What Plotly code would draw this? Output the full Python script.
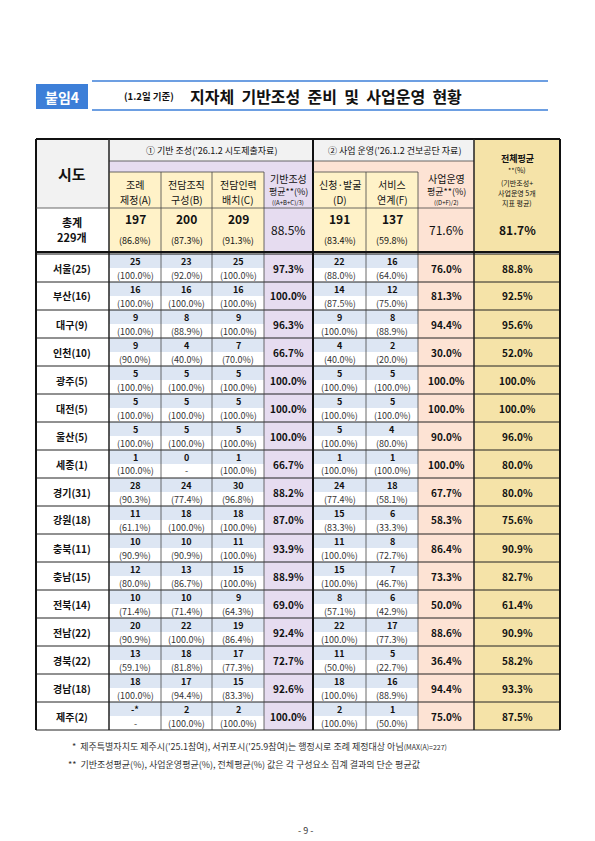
import plotly.graph_objects as go

regions = ["서울(25)","부산(16)","대구(9)","인천(10)","광주(5)","대전(5)","울산(5)","세종(1)","경기(31)",
           "강원(18)","충북(11)","충남(15)","전북(14)","전남(22)","경북(22)","경남(18)","제주(2)"]
A = ["25","16","9","9","5","5","5","1","28","11","10","12","10","20","13","18","-*"]
A_pct = [100.0,100.0,100.0,90.0,100.0,100.0,100.0,100.0,90.3,61.1,90.9,80.0,71.4,90.9,59.1,100.0,None]
B = ["23","16","8","4","5","5","5","0","24","18","10","13","10","22","18","17","2"]
B_pct = [92.0,100.0,88.9,40.0,100.0,100.0,100.0,None,77.4,100.0,90.9,86.7,71.4,100.0,81.8,94.4,100.0]
C = ["25","16","9","7","5","5","5","1","30","18","11","15","9","19","17","15","2"]
C_pct = [100.0,100.0,100.0,70.0,100.0,100.0,100.0,100.0,96.8,100.0,100.0,100.0,64.3,86.4,77.3,83.3,100.0]
base_avg = [97.3,100.0,96.3,66.7,100.0,100.0,100.0,66.7,88.2,87.0,93.9,88.9,69.0,92.4,72.7,92.6,100.0]
D = ["22","14","9","4","5","5","5","1","24","15","11","15","8","22","11","18","2"]
D_pct = [88.0,87.5,100.0,40.0,100.0,100.0,100.0,100.0,77.4,83.3,100.0,100.0,57.1,100.0,50.0,100.0,100.0]
F = ["16","12","8","2","5","5","4","1","18","6","8","7","6","17","5","16","1"]
F_pct = [64.0,75.0,88.9,20.0,100.0,100.0,80.0,100.0,58.1,33.3,72.7,46.7,42.9,77.3,22.7,88.9,50.0]
op_avg = [76.0,81.3,94.4,30.0,100.0,100.0,90.0,100.0,67.7,58.3,86.4,73.3,50.0,88.6,36.4,94.4,75.0]
total_avg = [88.8,92.5,95.6,52.0,100.0,100.0,96.0,80.0,80.0,75.6,90.9,82.7,61.4,90.9,58.2,93.3,87.5]

tot_counts = ["197","200","209","191","137"]
tot_pcts = [86.8,87.3,91.3,83.4,59.8]
tot_base, tot_op, tot_all = 88.5, 71.6, 81.7

W, H = 595, 841
FONT = "Noto Sans CJK KR"
shapes, anns = [], []

def px(x): return x / W
def py(y): return 1 - y / H

def rect(x0, y0, x1, y1, fill, line=None, lw=0):
    shapes.append(dict(type="rect", xref="paper", yref="paper", x0=px(x0), x1=px(x1), y0=py(y1), y1=py(y0),
                       fillcolor=fill, line=dict(color=line or fill, width=lw), layer="below"))

def line(x0, y0, x1, y1, color="#222", w=1):
    shapes.append(dict(type="line", xref="paper", yref="paper", x0=px(x0), x1=px(x1), y0=py(y0), y1=py(y1),
                       line=dict(color=color, width=w)))

def text(x, y, s, size=9, bold=False, color="#111", anchor="center"):
    if bold: s = "<b>" + s + "</b>"
    anns.append(dict(xref="paper", yref="paper", x=px(x), y=py(y), text=s, showarrow=False,
                     xanchor=anchor, yanchor="middle", font=dict(family=FONT, size=size, color=color)))

def pct(v): return "-" if v is None else f"({v:.1f}%)"

# Title
rect(28, 76, 80, 101, "#3d7fd8")
text(54, 88.5, "붙임4", 14, True, "white")
line(84, 73, 540, 73, "#3d7fd8", 1.5)
line(84, 102, 540, 102, "#3d7fd8", 1.5)
text(114, 88, "(1.2일 기준)", 9.5, True, anchor="left")
text(180, 88, "지자체  기반조성  준비  및  사업운영  현황", 16, True, anchor="left")

cols = [28, 101, 153, 204, 256, 305, 358, 410, 466, 552]
top, h1, h2, h3, hdr = 131, 153, 164, 200, 245
rh = (722 - 246) / 17

YEL, LAV, PINK, TAN, BLUE, GRAY = "#fff2c8", "#e6dcf0", "#fde3d4", "#f5e3a8", "#dde6f3", "#f2f2f2"

rect(cols[0], top, cols[1], h3, GRAY)
rect(cols[0], h3, cols[1], hdr, "white")
rect(cols[1], top, cols[5], h1, GRAY)
rect(cols[5], top, cols[8], h1, GRAY)
rect(cols[8], top, cols[9], hdr, TAN)
rect(cols[1], h1, cols[5], h2, LAV)
rect(cols[5], h1, cols[8], h2, PINK)
for i in (1, 2, 3, 5, 6):
    rect(cols[i], h2, cols[i+1], hdr, YEL)
rect(cols[4], h2, cols[5], hdr, LAV)
rect(cols[7], h2, cols[8], hdr, PINK)

text(64, 165, "시도", 15, True)
text(203, 142, "① 기반 조성('26.1.2 시도제출자료)", 9)
text(386, 142, "② 사업 운영('26.1.2 건보공단 자료)", 9)
text(509, 150, "전체평균", 9, True)
text(509, 162, "**(%)", 7)
text(509, 175, "(기반조성+", 7)
text(509, 185, "사업운영 5개", 7)
text(509, 195, "지표 평균)", 7)
hdrs = [("조례","제정(A)"),("전담조직","구성(B)"),("전담인력","배치(C)"),None,("신청·발굴","(D)"),("서비스","연계(F)")]
for i, hh in enumerate(hdrs):
    if hh is None: continue
    cx = (cols[i+1] + cols[i+2]) / 2
    text(cx, 176, hh[0], 10); text(cx, 191, hh[1], 10)
text(280, 170, "기반조성", 10); text(280, 183, "평균**(%)", 9); text(280, 195, "((A+B+C)/3)", 6)
text(438, 170, "사업운영", 10); text(438, 183, "평균**(%)", 9); text(438, 195, "((D+F)/2)", 6)

text(64, 214, "총계", 11, True); text(64, 229, "229개", 11, True)
tc = [1, 2, 3, 5, 6]
for k, i in enumerate(tc):
    cx = (cols[i] + cols[i+1]) / 2
    text(cx, 211, tot_counts[k], 12, True)
    text(cx, 233, pct(tot_pcts[k]), 9)
text(280, 222, f"{tot_base:.1f}%", 12)
text(438, 222, f"{tot_op:.1f}%", 12)
text(509, 222, f"{tot_all:.1f}%", 12, True)

for r, reg in enumerate(regions):
    y0 = 246 + r * rh; y1 = y0 + rh; ym = (y0 + y1) / 2
    cnts = [A[r], B[r], C[r], D[r], F[r]]
    pcs = [A_pct[r], B_pct[r], C_pct[r], D_pct[r], F_pct[r]]
    for k, i in enumerate(tc):
        rect(cols[i], y0, cols[i+1], ym, BLUE)
        cx = (cols[i] + cols[i+1]) / 2
        text(cx, y0 + rh * 0.27, cnts[k], 9, True)
        text(cx, y0 + rh * 0.75, pct(pcs[k]), 9, color="#333")
    rect(cols[4], y0, cols[5], y1, LAV)
    rect(cols[7], y0, cols[8], y1, PINK)
    rect(cols[8], y0, cols[9], y1, TAN)
    text(64, ym, reg, 10, True)
    text(280, ym, f"{base_avg[r]:.1f}%", 10, True)
    text(438, ym, f"{op_avg[r]:.1f}%", 10, True)
    text(509, ym, f"{total_avg[r]:.1f}%", 10, True)
    line(cols[0], y1, cols[9], y1, "#222", 1)

line(cols[1], h1, cols[8], h1, "#444", 0.8)
line(cols[0], top, cols[0], 722, "#111", 2)
line(cols[9], top, cols[9], 722, "#111", 2)
line(cols[0], top, cols[9], top, "#111", 2)
line(cols[1], top, cols[1], 722, "#222", 1.5)
line(cols[5], top, cols[5], 722, "#111", 2)
line(cols[8], top, cols[8], 722, "#222", 1.5)
for i in (2, 3, 4, 6, 7):
    line(cols[i], h2, cols[i], 722, "#444", 0.8)
line(cols[1], h2, cols[4], h2, "#444", 0.8)
line(cols[5], h2, cols[7], h2, "#444", 0.8)
line(cols[0], h3, cols[8], h3, "#444", 0.8)
line(cols[0], 244, cols[9], 244, "#111", 2)
line(cols[0], 246, cols[9], 246, "#111", 1)

text(62, 738, "*  제주특별자치도 제주시('25.1참여), 서귀포시('25.9참여)는 행정시로 조례 제정대상 아님<span style='font-size:7px'>(MAX(A)=227)</span>", 9, color="#333", anchor="left")
text(58, 756, "**  기반조성평균(%), 사업운영평균(%), 전체평균(%) 값은 각 구성요소 집계 결과의 단순 평균값", 9, color="#333", anchor="left")
text(297, 822, "- 9 -", 9, color="#333")

fig = go.Figure()
fig.update_layout(width=W, height=H, margin=dict(l=0, r=0, t=0, b=0), paper_bgcolor="white",
                  plot_bgcolor="white", shapes=shapes, annotations=anns,
                  xaxis=dict(visible=False), yaxis=dict(visible=False))
fig.write_html("out.html")
